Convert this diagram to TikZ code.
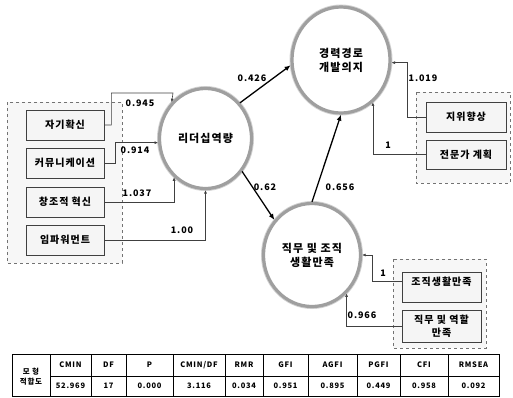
\documentclass[tikz,border=0pt]{standalone}
\usepackage{fontspec}
\setmainfont{Noto Sans CJK KR}[LetterSpace=10]
\usetikzlibrary{shapes.geometric,arrows.meta,calc}
\begin{document}
\begin{tikzpicture}[x=1pt,y=-1pt,
  latent/.style={ellipse, draw=gray!75, line width=3.2pt, fill=white, align=center,
    font=\fontsize{11}{14}\selectfont\bfseries, inner sep=0pt,
    preaction={draw=gray!35, line width=5pt}},
  indic/.style={rectangle, draw=black!75, line width=0.8pt, fill=black!4,
    minimum width=78pt, minimum height=30pt, inner sep=1pt, align=center,
    font=\fontsize{10}{12.5}\selectfont\bfseries},
  grp/.style={draw=black!55, dashed, line width=0.6pt, fill=black!3},
  conn/.style={draw=black!75, line width=0.6pt, -{Latex[length=3.5pt,width=3pt]}},
  arr/.style={draw=black, line width=1.3pt, -{Latex[length=6pt,width=5pt]}},
  lbl/.style={font=\fontsize{9}{10}\selectfont\bfseries, inner sep=0pt},
  tab/.style={font=\fontsize{7.5}{10}\selectfont\bfseries, inner sep=0pt, align=center},
  gridline/.style={draw=black, line width=0.6pt}
]
\useasboundingbox (0,0) rectangle (513,397);

% groups
\path[grp] (7,102) rectangle (122,263);
\path[grp] (416,92) rectangle (510,183);
\path[grp] (393,259) rectangle (486,348);

% indicators
\node[indic] (b1) at (65,125) {자기확신};
\node[indic] (b2) at (65,163) {커뮤니케이션};
\node[indic] (b3) at (65,202) {창조적 혁신};
\node[indic] (b4) at (65,240) {임파워먼트};
\node[indic, minimum width=80pt] (s1) at (466,117) {지위향상};
\node[indic, minimum width=80pt, minimum height=29pt] (s2) at (466,154.5) {전문가 계획};
\node[indic, minimum width=79pt, minimum height=0pt, inner ysep=2pt, text height=11pt, text depth=15pt] (t1) at (441.5,287) {조직생활만족};
\node[indic, minimum width=79pt, minimum height=32pt] (t2) at (441.5,326) {직무 및 역할\\만족};

% latent variables
\node[latent, minimum width=92pt, minimum height=100pt] (lead) at (205.5,138.5) {리더십역량};
\node[latent, minimum width=98pt, minimum height=106pt] (career) at (341,60) {경력경로\\개발의지};
\node[latent, minimum width=97pt, minimum height=103pt] (job) at (312,255) {직무 및 조직\\생활만족};

% measurement connectors
\draw[conn] (b1.east) -- ++(7,0) |- (173,93) -- (lead.133);
\draw[conn] (b2.east) -- ++(11,0) |- (lead.185);
\draw[conn] (b3.east) -| (lead.231);
\draw[conn] (b4.east) -| (lead.south);
\draw[conn] (s1.west) -- ++(-18,0) |- (career.357);
\draw[conn] (s2.west) -| (career.307);
\draw[conn] ($(t1.north west)+(0,10)$) -- ++(-29,0) |- (job.east);
\draw[conn] (t2.west) -| (job.312);

% structural paths
\draw[arr] (lead.46) -- (career.186);
\draw[arr] (lead.-42) -- (job.137);
\draw[arr] (job.north) -- (career.south);

% labels
\node[lbl] (l1) at (140,103) {0.945};
\node[lbl] (l2) at (135,150) {0.914};
\node[lbl] (l3) at (137,193) {1.037};
\node[lbl] (l4) at (182,230) {1.00};
\node[lbl] (l5) at (423,78) {1.019};
\node[lbl] (l6) at (388,145) {1};
\node[lbl] (l7) at (383,273) {1};
\node[lbl] (l8) at (362,315) {0.966};
\node[lbl] (l9) at (252,78) {0.426};
\node[lbl] (l10) at (265,187) {0.62};
\node[lbl] (l11) at (340,187) {0.656};

% table
\draw[gridline] (12,354) rectangle (499,396);
\draw[gridline] (50,376) -- (499,376);
\foreach \xx in {50,91,126,173,225,263,308,357,400,448}
  \draw[gridline] (\xx,354) -- (\xx,396);
\node[tab] (t0) at (31,377) {모 형\\적합도};
\node[tab] (h1) at (70.5,365) {CMIN};
\node[tab] (h2) at (108.5,365) {DF};
\node[tab] (h3) at (149.5,365) {P};
\node[tab] (h4) at (199,365) {CMIN/DF};
\node[tab] (h5) at (244,365) {RMR};
\node[tab] (h6) at (285.5,365) {GFI};
\node[tab] (h7) at (332.5,365) {AGFI};
\node[tab] (h8) at (378.5,365) {PGFI};
\node[tab] (h9) at (424,365) {CFI};
\node[tab] (h10) at (473.5,365) {RMSEA};
\node[tab] (v1) at (70.5,386) {52.969};
\node[tab] (v2) at (108.5,386) {17};
\node[tab] (v3) at (149.5,386) {0.000};
\node[tab] (v4) at (199,386) {3.116};
\node[tab] (v5) at (244,386) {0.034};
\node[tab] (v6) at (285.5,386) {0.951};
\node[tab] (v7) at (332.5,386) {0.895};
\node[tab] (v8) at (378.5,386) {0.449};
\node[tab] (v9) at (424,386) {0.958};
\node[tab] (v10) at (473.5,386) {0.092};
\end{tikzpicture}
\end{document}
